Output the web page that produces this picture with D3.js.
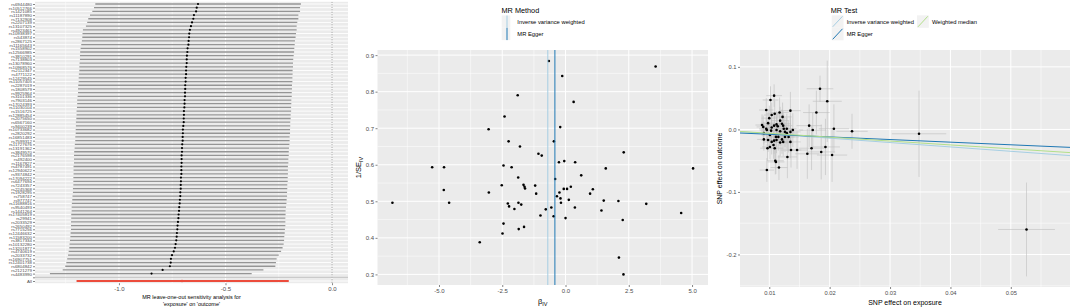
<!DOCTYPE html>
<html><head><meta charset="utf-8">
<script src="https://cdn.jsdelivr.net/npm/d3@7"></script>
<style>body{margin:0;background:#fff}svg{display:block}text{font-family:"Liberation Sans",Arial,sans-serif}</style>
</head><body><svg id="c" width="1072" height="307"></svg>
<script>
// ---------- Panel 1: leave-one-out ----------
const snps = ["rs6944480","rs10512766","rs1421085","rs11187890","rs7132908","rs2207139","rs13107325","rs4923461","rs10938397","rs543874","rs2867125","rs11165643","rs1558902","rs12566985","rs3810291","rs7138803","rs13078960","rs10968576","rs2112347","rs4771122","rs12429545","rs11057405","rs2287019","rs1808579","rs9925964","rs3101336","rs7903146","rs17024393","rs11030104","rs1516725","rs12885454","rs2075650","rs6567160","rs9400239","rs10733682","rs2820292","rs16851483","rs7599312","rs11727676","rs13191362","rs3849570","rs2176598","rs492400","rs1167827","rs4787491","rs12940622","rs9374842","rs17094222","rs6477694","rs7243357","rs2245368","rs1928295","rs758747","rs977747","rs11688816","rs9540493","rs1441264","rs17405819","rs29941","rs2033529","rs2650492","rs7715256","rs12446632","rs11583200","rs3817334","rs10132280","rs13201877","rs4740619","rs2033732","rs16907751","rs12401738","rs6804842","rs2121279","rs4483990"];
const looB = [-0.629,-0.635,-0.638,-0.648,-0.651,-0.657,-0.662,-0.667,-0.670,-0.671,-0.673,-0.674,-0.678,-0.679,-0.681,-0.682,-0.682,-0.684,-0.685,-0.685,-0.687,-0.687,-0.689,-0.689,-0.690,-0.690,-0.692,-0.692,-0.693,-0.695,-0.695,-0.696,-0.696,-0.698,-0.700,-0.700,-0.701,-0.701,-0.703,-0.704,-0.704,-0.706,-0.706,-0.706,-0.707,-0.707,-0.707,-0.709,-0.709,-0.710,-0.710,-0.712,-0.712,-0.714,-0.715,-0.717,-0.718,-0.720,-0.721,-0.723,-0.725,-0.726,-0.728,-0.729,-0.731,-0.734,-0.737,-0.743,-0.751,-0.756,-0.757,-0.761,-0.795,-0.847];
const looLo = [-1.111,-1.117,-1.125,-1.136,-1.144,-1.149,-1.155,-1.169,-1.171,-1.172,-1.174,-1.177,-1.180,-1.182,-1.183,-1.183,-1.185,-1.186,-1.186,-1.188,-1.189,-1.189,-1.191,-1.192,-1.192,-1.194,-1.196,-1.196,-1.197,-1.199,-1.199,-1.200,-1.202,-1.202,-1.203,-1.203,-1.205,-1.205,-1.207,-1.208,-1.210,-1.211,-1.211,-1.211,-1.213,-1.213,-1.213,-1.214,-1.214,-1.214,-1.216,-1.216,-1.218,-1.219,-1.221,-1.222,-1.222,-1.224,-1.224,-1.225,-1.225,-1.225,-1.227,-1.228,-1.230,-1.232,-1.233,-1.236,-1.239,-1.243,-1.247,-1.252,-1.264,-1.324];
const looUp = [-0.146,-0.150,-0.150,-0.158,-0.158,-0.163,-0.166,-0.166,-0.169,-0.171,-0.174,-0.175,-0.177,-0.178,-0.180,-0.182,-0.183,-0.183,-0.185,-0.185,-0.186,-0.186,-0.188,-0.188,-0.189,-0.189,-0.191,-0.191,-0.192,-0.192,-0.194,-0.194,-0.196,-0.196,-0.197,-0.197,-0.199,-0.199,-0.200,-0.202,-0.203,-0.203,-0.205,-0.205,-0.207,-0.207,-0.207,-0.208,-0.208,-0.210,-0.210,-0.211,-0.211,-0.213,-0.214,-0.216,-0.218,-0.218,-0.219,-0.219,-0.219,-0.221,-0.222,-0.224,-0.225,-0.227,-0.232,-0.239,-0.250,-0.260,-0.263,-0.266,-0.322,-0.377];
const allEst = {b: -0.704, lo: -1.199, up: -0.203};
const looTicks = [-1.0, -0.5, 0.0];
const looTickLabels = ["-1.0", "-0.5", "0.0"];

// ---------- Panel 2: funnel ----------
const funnelB = [-0.66,3.56,-0.13,-1.89,0.32,-2.41,-0.21,-3.04,-2.25,-0.46,-1.80,2.30,-1.07,-0.94,-2.45,-5.27,-4.80,-2.13,-0.26,-0.05,0.38,1.59,5.04,0.62,-1.87,-0.41,-2.52,-1.66,-1.62,-1.20,-1.60,0.21,-0.07,0.06,-4.81,-3.03,-1.16,1.08,0.97,-0.34,-0.24,-0.20,-0.18,0.13,-4.60,-6.84,-1.86,-2.28,-1.75,1.51,2.09,3.19,-2.23,-2.02,-0.78,-0.56,0.37,1.42,4.57,-0.47,-0.99,0.00,-2.45,2.26,-1.64,-1.85,-2.49,-3.39,2.11,2.29];
const funnelInvSE = [0.884,0.869,0.843,0.790,0.772,0.732,0.703,0.697,0.664,0.664,0.650,0.634,0.630,0.625,0.598,0.593,0.593,0.593,0.607,0.610,0.607,0.590,0.590,0.571,0.565,0.561,0.544,0.545,0.540,0.543,0.535,0.540,0.534,0.534,0.531,0.524,0.521,0.533,0.521,0.514,0.524,0.508,0.496,0.504,0.496,0.496,0.496,0.494,0.491,0.502,0.501,0.493,0.486,0.479,0.478,0.483,0.483,0.475,0.468,0.459,0.461,0.454,0.439,0.449,0.430,0.424,0.412,0.388,0.346,0.300];
const methodNames = ["Inverse variance weighted", "MR Egger"];
const methodEst = [-0.70, -0.42];
const funnelXTicks = [-5.0, -2.5, 0.0, 2.5, 5.0];
const funnelXLabels = ["-5.0", "-2.5", "0.0", "2.5", "5.0"];
const funnelYTicks = [0.3, 0.4, 0.5, 0.6, 0.7, 0.8, 0.9];
const funnelYLabels = ["0.3", "0.4", "0.5", "0.6", "0.7", "0.8", "0.9"];

// ---------- Panel 3: scatter ----------
const bx = [0.0184,0.0196,0.0108,0.0102,0.0178,0.0135,0.0095,0.0104,0.0109,0.0117,0.0122,0.0237,0.0348,0.0207,0.0526,0.0090,0.0096,0.0103,0.0101,0.0108,0.0112,0.0118,0.0121,0.0112,0.0118,0.0124,0.0126,0.0129,0.0111,0.0115,0.0121,0.0126,0.0132,0.0135,0.0166,0.0172,0.0091,0.0098,0.0104,0.0108,0.0112,0.0118,0.0123,0.0101,0.0107,0.0109,0.0097,0.0135,0.0136,0.0146,0.0170,0.0186,0.0193,0.0163,0.0204,0.0130,0.0110,0.0111,0.0116,0.0096,0.0088,0.0098,0.0091,0.0095,0.0104,0.0114,0.0123,0.0129,0.0139,0.0100];
const by = [0.065,0.045,0.054,0.047,0.027,0.030,0.031,0.023,0.025,0.027,0.020,-0.003,-0.007,0.001,-0.160,0.004,-0.001,-0.002,-0.009,0.006,0.008,0.014,0.009,-0.001,-0.003,0.001,-0.004,-0.006,-0.012,-0.012,-0.016,-0.012,-0.012,-0.004,0.006,-0.001,-0.016,-0.017,-0.020,-0.018,-0.017,-0.021,-0.020,-0.028,-0.025,-0.030,-0.030,-0.020,-0.033,-0.033,-0.030,-0.036,-0.028,-0.039,-0.041,-0.044,-0.050,-0.052,-0.061,-0.065,0.007,0.010,-0.006,0.001,0.003,0.005,0.006,0.001,-0.001,0.018];
const sex = [0.0022,0.0024,0.0013,0.0013,0.0022,0.0017,0.0012,0.0013,0.0014,0.0015,0.0015,0.0026,0.0045,0.0025,0.0047,0.0011,0.0012,0.0013,0.0013,0.0014,0.0014,0.0015,0.0015,0.0014,0.0015,0.0016,0.0016,0.0016,0.0014,0.0014,0.0015,0.0016,0.0017,0.0017,0.0021,0.0022,0.0011,0.0012,0.0013,0.0014,0.0014,0.0015,0.0015,0.0013,0.0013,0.0014,0.0012,0.0017,0.0017,0.0018,0.0021,0.0023,0.0024,0.0020,0.0025,0.0016,0.0014,0.0014,0.0014,0.0012,0.0011,0.0012,0.0011,0.0012,0.0013,0.0014,0.0015,0.0016,0.0017,0.0013];
const sey = [0.021,0.065,0.018,0.022,0.035,0.030,0.019,0.020,0.021,0.024,0.023,0.028,0.069,0.039,0.075,0.018,0.016,0.019,0.020,0.020,0.021,0.022,0.023,0.021,0.022,0.023,0.024,0.025,0.021,0.022,0.023,0.024,0.025,0.026,0.034,0.028,0.018,0.019,0.020,0.021,0.021,0.022,0.023,0.020,0.022,0.022,0.020,0.026,0.028,0.030,0.035,0.044,0.045,0.040,0.043,0.034,0.022,0.019,0.020,0.019,0.017,0.019,0.018,0.018,0.020,0.022,0.023,0.024,0.027,0.020];
const testNames = ["Inverse variance weighted", "MR Egger", "Weighted median"];
const testSlope = [-0.70, -0.42, -0.62];
const testIntercept = [0, -0.0036, 0];
const scXTicks = [0.01, 0.02, 0.03, 0.04, 0.05];
const scXLabels = ["0.01", "0.02", "0.03", "0.04", "0.05"];
const scYTicks = [-0.2, -0.1, 0.0, 0.1];
const scYLabels = ["-0.2", "-0.1", "0.0", "0.1"];

const COL = {"Inverse variance weighted": "#a6cee3", "MR Egger": "#1f78b4", "Weighted median": "#b2df8a"};
const PANEL = "#EBEBEB", KEY = "#F2F2F2", TICKTXT = "#4D4D4D", TICKLN = "#333333";

const svg = d3.select("#c");
const defs = svg.append("defs");

function clip(id, x0, y0, x1, y1) {
  defs.append("clipPath").attr("id", id).append("rect")
    .attr("x", x0).attr("y", y0).attr("width", x1 - x0).attr("height", y1 - y0);
}
function styleAxis(g, fs) {
  g.select(".domain").remove();
  g.selectAll(".tick line").attr("stroke", TICKLN).attr("stroke-width", 0.6);
  g.selectAll(".tick text").attr("fill", TICKTXT).style("font-size", fs + "px")
    .style("font-family", '"Liberation Sans",Arial,sans-serif');
}
function grid(g, scale, vals, orient, a0, a1, w) {
  vals.forEach(v => {
    const p = scale(v);
    if (orient === "v") g.append("line").attr("x1", p).attr("x2", p).attr("y1", a0).attr("y2", a1)
      .attr("stroke", "#fff").attr("stroke-width", w);
    else g.append("line").attr("y1", p).attr("y2", p).attr("x1", a0).attr("x2", a1)
      .attr("stroke", "#fff").attr("stroke-width", w);
  });
}

// ================= PANEL 1 =================
{
  const L = 35, R = 348;
  const rows = [...snps, "", "All"];
  const x = d3.scaleLinear().domain([-1.394, 0.075]).range([L, R]);
  const y = d3.scalePoint().domain(rows).range([4, 281]);
  const st = y.step();
  const T = 4 - 0.6 * st, B = 281 + 0.6 * st;
  const g = svg.append("g");
  g.append("rect").attr("x", L).attr("y", T).attr("width", R - L).attr("height", B - T).attr("fill", PANEL);
  grid(g, x, [-1.25, -0.75, -0.25], "v", T, B, 0.5);
  grid(g, y, rows, "h", L, R, 0.9);
  grid(g, x, looTicks, "v", T, B, 1);
  clip("c1", L, T, R, B);
  const d = g.append("g").attr("clip-path", "url(#c1)");
  d.append("line").attr("x1", x(0)).attr("x2", x(0)).attr("y1", T).attr("y2", B)
    .attr("stroke", "#444").attr("stroke-width", 0.6).attr("stroke-dasharray", "1,1.5");
  d.append("line").attr("x1", L).attr("x2", R).attr("y1", y("")).attr("y2", y(""))
    .attr("stroke", "#bebebe").attr("stroke-width", 1);
  d.selectAll(".eb").data(snps).enter().append("line")
    .attr("x1", (s, i) => x(looLo[i])).attr("x2", (s, i) => x(looUp[i]))
    .attr("y1", s => y(s)).attr("y2", s => y(s))
    .attr("stroke", "#959595").attr("stroke-width", 1.3);
  d.append("line").attr("x1", x(allEst.lo)).attr("x2", x(allEst.up)).attr("y1", y("All")).attr("y2", y("All"))
    .attr("stroke", "#ec4c3c").attr("stroke-width", 2);
  d.selectAll(".pt").data(snps).enter().append("circle")
    .attr("cx", (s, i) => x(looB[i])).attr("cy", s => y(s)).attr("r", 1.1).attr("fill", "#000");
  d.append("circle").attr("cx", x(allEst.b)).attr("cy", y("All")).attr("r", 1.3).attr("fill", "#ec4c3c");

  const ax = g.append("g").attr("transform", `translate(0,${B})`)
    .call(d3.axisBottom(x).tickValues(looTicks).tickFormat((v, i) => looTickLabels[i]).tickSize(2).tickPadding(1.5));
  styleAxis(ax, 6);
  const ay = g.append("g").attr("transform", `translate(${L},0)`)
    .call(d3.axisLeft(y).tickSize(2).tickPadding(1));
  styleAxis(ay, 4.4);
  g.append("text").attr("x", (L + R) / 2).attr("y", 298.5).attr("text-anchor", "middle")
    .style("font-size", "5.5px").attr("fill", "#000").text("MR leave-one-out sensitivity analysis for");
  g.append("text").attr("x", (L + R) / 2).attr("y", 305.5).attr("text-anchor", "middle")
    .style("font-size", "5.5px").attr("fill", "#000").text("'exposure' on 'outcome'");
}

// ================= PANEL 2 =================
{
  const L = 377.5, R = 708, T = 50, B = 285;
  const x = d3.scaleLinear().domain([-7.43, 5.63]).range([L, R]);
  const y = d3.scaleLinear().domain([0.271, 0.914]).range([B, T]);
  const g = svg.append("g");
  g.append("rect").attr("x", L).attr("y", T).attr("width", R - L).attr("height", B - T).attr("fill", PANEL);
  grid(g, x, [-6.25, -3.75, -1.25, 1.25, 3.75], "v", T, B, 0.5);
  grid(g, y, [0.35, 0.45, 0.55, 0.65, 0.75, 0.85], "h", L, R, 0.5);
  grid(g, x, funnelXTicks, "v", T, B, 1);
  grid(g, y, funnelYTicks, "h", L, R, 1);
  clip("c2", L, T, R, B);
  const d = g.append("g").attr("clip-path", "url(#c2)");
  d.selectAll(".p").data(funnelB).enter().append("circle")
    .attr("cx", v => x(v)).attr("cy", (v, i) => y(funnelInvSE[i])).attr("r", 1.3).attr("fill", "#000");
  methodNames.forEach((m, i) => {
    d.append("line").attr("x1", x(methodEst[i])).attr("x2", x(methodEst[i])).attr("y1", T).attr("y2", B)
      .attr("stroke", COL[m]).attr("stroke-width", 1);
  });
  const ax = g.append("g").attr("transform", `translate(0,${B})`)
    .call(d3.axisBottom(x).tickValues(funnelXTicks).tickFormat((v, i) => funnelXLabels[i]).tickSize(2).tickPadding(1.5));
  styleAxis(ax, 6);
  const ay = g.append("g").attr("transform", `translate(${L},0)`)
    .call(d3.axisLeft(y).tickValues(funnelYTicks).tickFormat((v, i) => funnelYLabels[i]).tickSize(2).tickPadding(1.5));
  styleAxis(ay, 6);
  const xt = g.append("text").attr("x", (L + R) / 2).attr("y", 304).attr("text-anchor", "middle")
    .style("font-size", "7.5px").attr("fill", "#000");
  xt.append("tspan").text("β");
  xt.append("tspan").attr("dy", 1.8).style("font-size", "5.5px").text("IV");
  const yt = g.append("text").attr("transform", `translate(361,${(T + B) / 2}) rotate(-90)`).attr("text-anchor", "middle")
    .style("font-size", "7.5px").attr("fill", "#000");
  yt.append("tspan").text("1/SE");
  yt.append("tspan").attr("dy", 1.8).style("font-size", "5.5px").text("IV");
  // legend
  const lg = g.append("g");
  lg.append("text").attr("x", 501.5).attr("y", 13.3).style("font-size", "7.3px").attr("fill", "#000").text("MR Method");
  methodNames.forEach((m, i) => {
    const ky = 15.5 + i * 12.3;
    lg.append("rect").attr("x", 501.7).attr("y", ky).attr("width", 8.6).attr("height", 12.3).attr("fill", KEY);
    lg.append("line").attr("x1", 507).attr("x2", 507).attr("y1", ky).attr("y2", ky + 12.3)
      .attr("stroke", COL[m]).attr("stroke-width", 1);
    lg.append("text").attr("x", 517.3).attr("y", ky + 8.5).style("font-size", "5.8px").attr("fill", "#000").text(m);
  });
}

// ================= PANEL 3 =================
{
  const L = 740, R = 1070, T = 50, B = 287;
  const x = d3.scaleLinear().domain([0.00515, 0.0598]).range([L, R]);
  const y = d3.scaleLinear().domain([-0.252, 0.127]).range([B, T]);
  const g = svg.append("g");
  g.append("rect").attr("x", L).attr("y", T).attr("width", R - L).attr("height", B - T).attr("fill", PANEL);
  grid(g, x, [0.015, 0.025, 0.035, 0.045, 0.055], "v", T, B, 0.5);
  grid(g, y, [-0.25, -0.15, -0.05, 0.05], "h", L, R, 0.5);
  grid(g, x, scXTicks, "v", T, B, 1);
  grid(g, y, scYTicks, "h", L, R, 1);
  clip("c3", L, T, R, B);
  const d = g.append("g").attr("clip-path", "url(#c3)");
  d.selectAll(".ev").data(bx).enter().append("line")
    .attr("x1", v => x(v)).attr("x2", v => x(v))
    .attr("y1", (v, i) => y(by[i] - sey[i])).attr("y2", (v, i) => y(by[i] + sey[i]))
    .attr("stroke", "#bdbdbd").attr("stroke-width", 0.6);
  d.selectAll(".eh").data(bx).enter().append("line")
    .attr("x1", (v, i) => x(v - sex[i])).attr("x2", (v, i) => x(v + sex[i]))
    .attr("y1", (v, i) => y(by[i])).attr("y2", (v, i) => y(by[i]))
    .attr("stroke", "#bdbdbd").attr("stroke-width", 0.6);
  d.selectAll(".p").data(bx).enter().append("circle")
    .attr("cx", v => x(v)).attr("cy", (v, i) => y(by[i])).attr("r", 1.3).attr("fill", "#000");
  const xd = x.domain();
  testNames.forEach((m, i) => {
    d.append("line").attr("x1", x(xd[0])).attr("x2", x(xd[1]))
      .attr("y1", y(testIntercept[i] + testSlope[i] * xd[0])).attr("y2", y(testIntercept[i] + testSlope[i] * xd[1]))
      .attr("stroke", COL[m]).attr("stroke-width", 1);
  });
  const ax = g.append("g").attr("transform", `translate(0,${B})`)
    .call(d3.axisBottom(x).tickValues(scXTicks).tickFormat((v, i) => scXLabels[i]).tickSize(2).tickPadding(1.5));
  styleAxis(ax, 5.8);
  const ay = g.append("g").attr("transform", `translate(${L},0)`)
    .call(d3.axisLeft(y).tickValues(scYTicks).tickFormat((v, i) => scYLabels[i]).tickSize(2).tickPadding(1.5));
  styleAxis(ay, 5.8);
  g.append("text").attr("x", (L + R) / 2).attr("y", 304.5).attr("text-anchor", "middle")
    .style("font-size", "7px").attr("fill", "#000").text("SNP effect on exposure");
  g.append("text").attr("transform", `translate(722,${(T + B) / 2}) rotate(-90)`).attr("text-anchor", "middle")
    .style("font-size", "7px").attr("fill", "#000").text("SNP effect on outcome");
  // legend
  const lg = g.append("g");
  lg.append("text").attr("x", 830.7).attr("y", 13.3).style("font-size", "7.3px").attr("fill", "#000").text("MR Test");
  const pos = {"Inverse variance weighted": [831.7, 15.3], "MR Egger": [831.7, 27.8], "Weighted median": [917, 15.3]};
  testNames.forEach(m => {
    const [kx, ky] = pos[m];
    lg.append("rect").attr("x", kx).attr("y", ky).attr("width", 11.8).attr("height", 12.5).attr("fill", KEY);
    lg.append("line").attr("x1", kx + 1).attr("x2", kx + 10.8).attr("y1", ky + 11.5).attr("y2", ky + 1)
      .attr("stroke", COL[m]).attr("stroke-width", 1);
    lg.append("text").attr("x", kx + 15).attr("y", ky + 8.5).style("font-size", "5.8px").attr("fill", "#000").text(m);
  });
}
</script>
</body></html>
